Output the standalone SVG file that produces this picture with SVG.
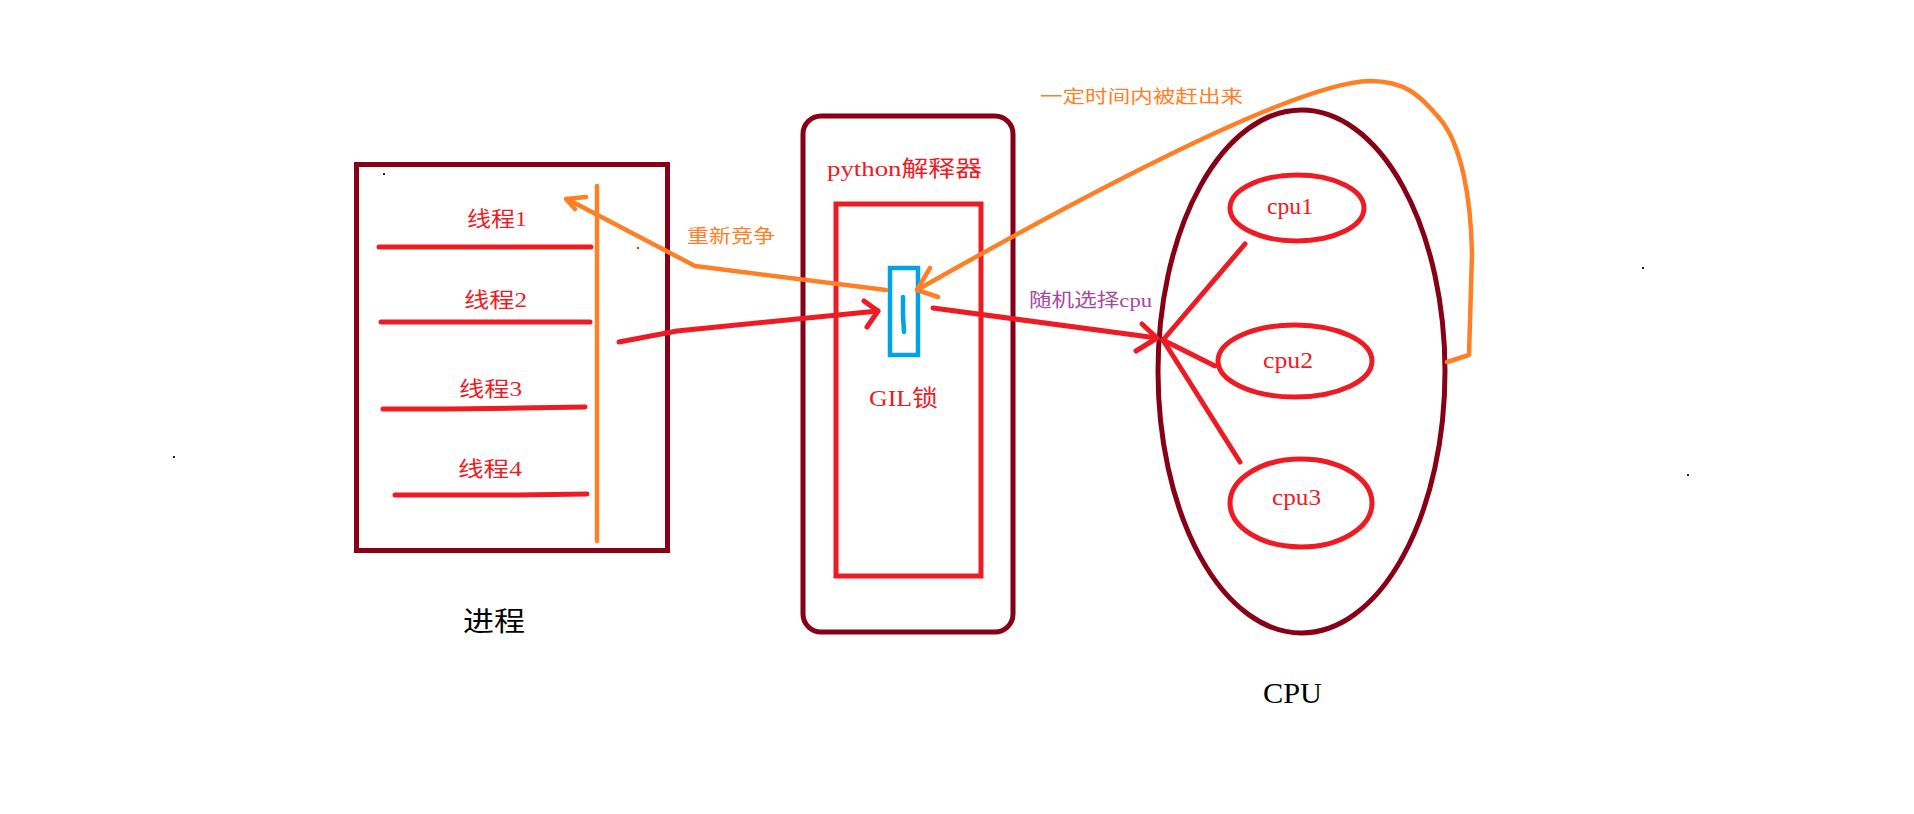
<svg xmlns="http://www.w3.org/2000/svg" width="1914" height="814" viewBox="0 0 1914 814">
<style>
.bg{fill:#ffffff}
.dark{fill:none;stroke:#880015;stroke-width:5}
.red{fill:none;stroke:#ed1c24;stroke-width:5;stroke-linecap:round;stroke-linejoin:round}
.redbox{fill:none;stroke:#ed1c24;stroke-width:5}
.org{fill:none;stroke:#ff7f27;stroke-width:4.5;stroke-linecap:round;stroke-linejoin:round}
.blue{fill:none;stroke:#00a2e8;stroke-width:4.5;stroke-linecap:round}
.t{font-family:"Liberation Serif","Noto Sans CJK SC",serif}
.tr{fill:#ed1c24}
.to{fill:#ff7f27}
.tp{fill:#a349a4}
.tk{fill:#000000}
.dot{fill:#222222}
</style>
<rect class="bg" x="0" y="0" width="1914" height="814"/>

<g id="process">
  <rect class="dark" x="356.5" y="164.5" width="311" height="386"/>
  <line class="red" x1="379" y1="247" x2="591" y2="247"/>
  <line class="red" x1="381" y1="322" x2="590" y2="322"/>
  <polyline class="red" points="383,409 450,409 520,408 585,407"/>
  <polyline class="red" points="395,495 517,495 587,494"/>
  <text class="t tr" x="467" y="226" font-size="21" textLength="60" lengthAdjust="spacingAndGlyphs">线程1</text>
  <text class="t tr" x="464" y="307" font-size="21" textLength="63" lengthAdjust="spacingAndGlyphs">线程2</text>
  <text class="t tr" x="459" y="396" font-size="21" textLength="63" lengthAdjust="spacingAndGlyphs">线程3</text>
  <text class="t tr" x="458" y="476" font-size="21" textLength="64" lengthAdjust="spacingAndGlyphs">线程4</text>
  <line class="org" x1="597" y1="186" x2="597" y2="541"/>
  <text class="t tk" x="463" y="631" font-size="27" textLength="62" lengthAdjust="spacingAndGlyphs">进程</text>
</g>

<g id="interpreter">
  <rect class="dark" x="803" y="116" width="210" height="516" rx="18" ry="18"/>
  <text class="t tr" x="827" y="176" font-size="22" textLength="155" lengthAdjust="spacingAndGlyphs">python解释器</text>
  <rect class="redbox" x="836" y="204" width="145" height="372"/>
</g>

<g id="gil">
  <rect x="890" y="268" width="28" height="87" fill="none" stroke="#00a2e8" stroke-width="4.5"/>
  <polyline class="blue" points="903,297 903,315 904,332"/>
  <text class="t tr" x="869" y="406" font-size="23" textLength="69" lengthAdjust="spacingAndGlyphs">GIL锁</text>
</g>

<g id="cpu">
  <ellipse class="dark" cx="1301.5" cy="371.5" rx="143.5" ry="261.5"/>
  <text class="t tk" x="1263" y="703" font-size="30" textLength="59" lengthAdjust="spacingAndGlyphs">CPU</text>
</g>

<g id="cpu1">
  <ellipse class="redbox" cx="1297" cy="208" rx="67" ry="33"/>
  <text class="t tr" x="1267" y="214" font-size="24" textLength="46" lengthAdjust="spacingAndGlyphs">cpu1</text>
</g>
<g id="cpu2">
  <ellipse class="redbox" cx="1295" cy="361" rx="77" ry="36"/>
  <text class="t tr" x="1263" y="368" font-size="24" textLength="50" lengthAdjust="spacingAndGlyphs">cpu2</text>
</g>
<g id="cpu3">
  <ellipse class="redbox" cx="1301" cy="503" rx="71" ry="44"/>
  <text class="t tr" x="1272" y="505" font-size="24" textLength="49" lengthAdjust="spacingAndGlyphs">cpu3</text>
</g>

<g id="connectors">
  <!-- thread to GIL -->
  <polyline class="red" points="619,342 677,331 878,311"/>
  <polyline class="red" points="864,301 878,311 867,327"/>
  <!-- GIL to CPU -->
  <line class="red" x1="933" y1="308" x2="1157" y2="338"/>
  <polyline class="red" points="1142,324 1157,338 1136,351"/>
  <text class="t tp" x="1029" y="307" font-size="19" textLength="123" lengthAdjust="spacingAndGlyphs">随机选择cpu</text>
  <!-- CPU fan -->
  <line class="red" x1="1163" y1="340" x2="1245" y2="244"/>
  <line class="red" x1="1163" y1="340" x2="1215" y2="366"/>
  <line class="red" x1="1163" y1="340" x2="1240" y2="462"/>
  <!-- evicted: CPU back to GIL -->
  <path class="org" d="M1447,362 L1469,355 L1472,254 C1471,200 1462,145 1440,119 C1420,95 1405,81 1370,81 C1320,82 1190,135 917,290"/>
  <polyline class="org" points="930,268 917,290 938,297"/>
  <text class="t to" x="1040" y="103" font-size="18" textLength="203" lengthAdjust="spacingAndGlyphs">一定时间内被赶出来</text>
  <!-- compete again -->
  <polyline class="org" points="886,290 695,266 567,199"/>
  <polyline class="org" points="586,197 566,199 575,209" stroke-width="6"/>
  <text class="t to" x="687" y="243" font-size="19" textLength="88" lengthAdjust="spacingAndGlyphs">重新竞争</text>
</g>

<g id="dots">
  <rect class="dot" x="383" y="173" width="2" height="2"/>
  <rect x="637" y="247" width="2" height="2" fill="#ed1c24"/>
  <rect class="dot" x="173" y="456" width="2" height="2"/>
  <rect class="dot" x="1642" y="267" width="2" height="2"/>
  <rect class="dot" x="1687" y="474" width="2" height="2"/>
</g>
</svg>
